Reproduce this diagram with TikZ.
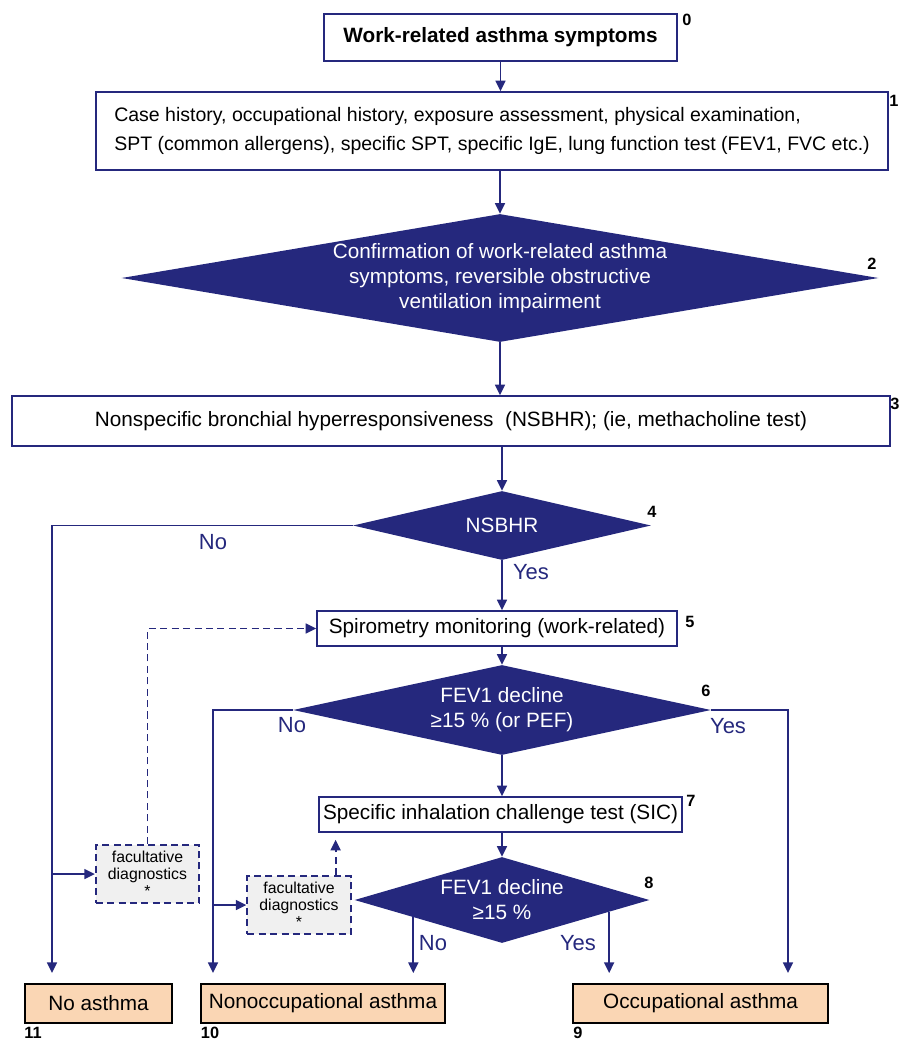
\documentclass[tikz,border=0pt]{standalone}
\usepackage{fontspec}
\setmainfont{Liberation Sans}
\usetikzlibrary{shapes.geometric,arrows.meta,calc}

\definecolor{navy}{RGB}{37,40,125}
\definecolor{peach}{RGB}{250,214,180}
\definecolor{facgray}{RGB}{240,240,240}

\tikzstyle{stepbox}=[draw=navy,line width=0.9pt,fill=white,inner sep=0pt,font=\fontsize{11.8}{16.5}\selectfont]
\tikzstyle{decision}=[diamond,fill=navy,inner sep=0pt]
\tikzstyle{dtext}=[text=white,align=center,inner sep=0pt,font=\fontsize{11.8}{14.3}\selectfont]
\tikzstyle{endbox}=[draw=black,line width=1.2pt,fill=peach,inner sep=0pt,minimum height=0.78cm,font=\fontsize{11.8}{14}\selectfont]
\tikzstyle{facbox}=[draw=navy,line width=1pt,dash pattern=on 4pt off 2.5pt,fill=facgray,inner sep=0pt,minimum width=2.07cm,minimum height=1.16cm,align=center,font=\fontsize{9}{9.8}\selectfont]
\tikzstyle{num}=[inner sep=0pt,font=\bfseries\fontsize{9.3}{10}\selectfont]
\tikzstyle{answer}=[inner sep=0pt,text=navy,font=\fontsize{12.5}{14}\selectfont]
\tikzstyle{flow}=[draw=navy,line width=1.1pt,-{Triangle[length=6pt,width=5.6pt]}]
\tikzstyle{dashflow}=[flow,dash pattern=on 4pt off 2.5pt]

\begin{document}
\begin{tikzpicture}[x=0.02cm,y=-0.02cm]
\useasboundingbox (0,0) rectangle (907,1040);

% upper chain
\node[stepbox,minimum width=7.06cm,minimum height=0.94cm,font=\bfseries\fontsize{11.8}{14}\selectfont] (b0) at (500.5,37.5) {Work-related asthma symptoms};
\node[stepbox,minimum width=15.84cm,minimum height=1.56cm,align=left,font=\fontsize{11.1}{16.5}\selectfont] (b1) at (492,131) {Case history, occupational history, exposure assessment, physical examination,\\SPT (common allergens), specific SPT, specific IgE, lung function test (FEV1, FVC etc.)};
\node[decision,minimum width=15.14cm,minimum height=2.56cm] (d2) at (500,278) {};
\node[dtext] (t2) at (d2) {Confirmation of work-related asthma\\symptoms, reversible obstructive\\ventilation impairment};
\node[stepbox,minimum width=17.56cm,minimum height=1.0cm] (b3) at (451,421) {Nonspecific bronchial hyperresponsiveness~~(NSBHR); (ie, methacholine test)};
\node[decision,minimum width=5.96cm,minimum height=1.38cm] (d4) at (502,525.5) {};
\node[dtext] (t4) at (d4) {NSBHR};

% middle
\node[stepbox,minimum width=7.2cm,minimum height=0.7cm] (sp) at (497,628.5) {Spirometry monitoring (work-related)};
\node[decision,minimum width=8.36cm,minimum height=1.8cm] (d6) at (502,710) {};
\node[dtext] (t6) at (d6) {FEV1 decline\\≥15 \% (or PEF)};
\node[stepbox,minimum width=7.26cm,minimum height=0.7cm] (b7) at (500.5,814.5) {Specific inhalation challenge test (SIC)};
\node[decision,minimum width=5.9cm,minimum height=1.72cm] (d8) at (502,900) {};
\node[dtext] (t8) at (d8) {FEV1 decline\\≥15 \%};
\node[facbox] (fac1) at (147.5,874) {facultative\\diagnostics\\*};
\node[facbox] (fac2) at (299,905) {facultative\\diagnostics\\*};

% outcomes
\node[endbox,minimum width=2.94cm] (na) at (98.5,1003.5) {No asthma};
\node[endbox,minimum width=4.88cm] (nocc) at (323,1003.5) {Nonoccupational asthma};
\node[endbox,minimum width=5.1cm] (occ) at (700.5,1003.5) {Occupational asthma};
\coordinate (e11) at (52,973);
\coordinate (e10) at (213,973);
\coordinate (e9) at (788,973);

% numbers
\node[num] (n0) at (687,20) {0};
\node[num] (n1) at (894,101) {1};
\node[num] (n2) at (872,264) {2};
\node[num] (n3) at (895,404) {3};
\node[num] (n4) at (652,512) {4};
\node[num] (n5) at (690,622) {5};
\node[num] (n6) at (706,691) {6};
\node[num] (n7) at (691,801) {7};
\node[num] (n8) at (649,883) {8};
\node[num] (n9) at (578,1033) {9};
\node[num] (n10) at (210,1033) {10};
\node[num] (n11) at (33,1033) {11};

% answers
\node[answer] (no4) at (213,542) {No};
\node[answer] (yes4) at (531,572) {Yes};
\node[answer] (no6) at (292,725) {No};
\node[answer] (yes6) at (728,726) {Yes};
\node[answer] (no8) at (433,943) {No};
\node[answer] (yes8) at (578,943) {Yes};

% arrows
\draw[flow] (b0.south) -- (b0.south |- b1.north);
\draw[flow] (d2.north |- b1.south) -- (d2.north);
\draw[flow] (d2.south) -- (d2.south |- b3.north);
\draw[flow] (d4.north |- b3.south) -- (d4.north);
\draw[flow] (d4.south) -- (d4.south |- sp.north);
\draw[flow] (d6.north |- sp.south) -- (d6.north);
\draw[flow] (d6.south) -- (d6.south |- b7.north);
\draw[flow] (d8.north |- b7.south) -- (d8.north);
\draw[flow] (d4.west) -| (e11);
\draw[flow] (d6.west) -| (e10);
\draw[flow] (d6.east) -| (e9);
\draw[flow] ($(d8.west)!0.4!(d8.south)$) coordinate (p8) -- (p8 |- e10);
\draw[flow] ($(d8.south)!0.725!(d8.east)$) coordinate (q8) -- (q8 |- e9);
\draw[flow] (fac1.west -| e11) -- (fac1.west);
\draw[flow] (fac2.west -| e10) -- (fac2.west);
\draw[dashflow] (fac1.north) |- (sp.west);
\draw[dashflow,shorten >=0.14cm] ($(fac2.north east)+(-16,0)$) coordinate (f2) -- (f2 |- b7.south);

\end{tikzpicture}
\end{document}
